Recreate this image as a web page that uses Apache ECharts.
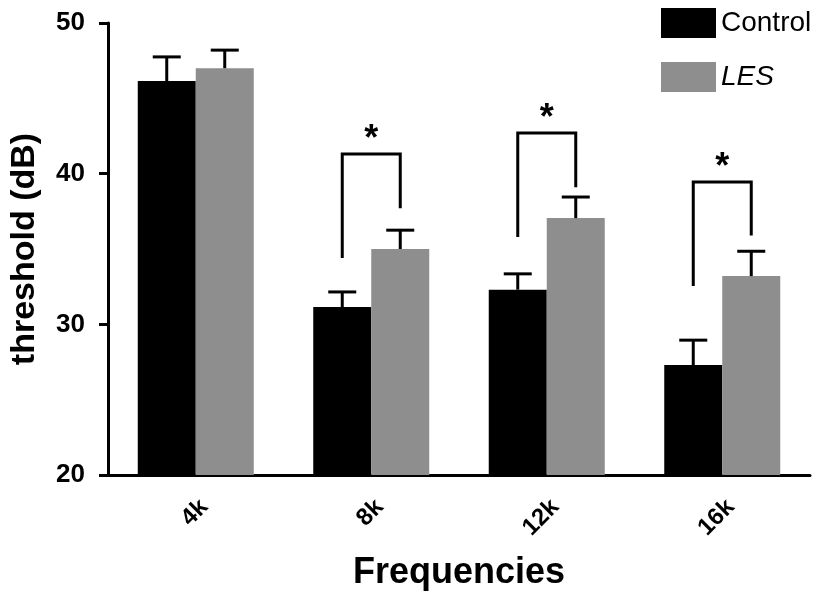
<!DOCTYPE html>
<html>
<head>
<meta charset="utf-8">
<script src="https://cdn.jsdelivr.net/npm/echarts@6/dist/echarts.min.js"></script>
<style>html,body{margin:0;padding:0;background:#fff}#c{width:816px;height:596px}</style>
</head>
<body>
<div id="c"></div>
<script>
var categories = ['4k', '8k', '12k', '16k'];
var controlMean = [46.15, 31.15, 32.3, 27.3];
var controlErr = [1.6, 1.0, 1.05, 1.65];
var lesMean = [47.0, 35.0, 37.05, 33.2];
var lesErr = [1.2, 1.25, 1.4, 1.65];
var bracketTop = [null, 41.3, 42.7, 39.45];
var bracketLeftEnd = [null, 34.4, 35.8, 32.55];
var bracketRightEnd = [null, 37.7, 39.1, 35.9];
var sigLabels = ['', '*', '*', '*'];
var yTicks = [20, 30, 40, 50];

var FONT = '"Liberation Sans", Arial, sans-serif';
var BAR_W = 58;
var BLACK = '#000000';
var GRAY = '#8e8e8e';

function errData(means, errs) {
  return means.map(function (m, i) { return [i, m, errs[i]]; });
}
function errRender(offset) {
  return function (params, api) {
    var i = api.value(0);
    var base = api.coord([i, api.value(1)]);
    var top = api.coord([i, api.value(1) + api.value(2)]);
    var x = base[0] + offset;
    var cap = 14;
    return {
      type: 'group',
      children: [
        { type: 'line', shape: { x1: x, y1: base[1], x2: x, y2: top[1] }, style: { stroke: '#000', lineWidth: 3 } },
        { type: 'line', shape: { x1: x - cap, y1: top[1], x2: x + cap, y2: top[1] }, style: { stroke: '#000', lineWidth: 3 } }
      ]
    };
  };
}
var bracketData = [];
categories.forEach(function (c, i) {
  if (bracketTop[i] != null) bracketData.push([i, bracketTop[i], bracketLeftEnd[i], bracketRightEnd[i], sigLabels[i]]);
});

var chart = echarts.init(document.getElementById('c'), null, { renderer: 'canvas' });
chart.setOption({
  animation: false,
  backgroundColor: '#fff',
  textStyle: { fontFamily: FONT },
  grid: { left: 108, right: 6, top: 23, bottom: 121, containLabel: false, outerBoundsMode: 'none' },
  legend: {
    orient: 'vertical', left: 656, top: 3,
    itemWidth: 55, itemHeight: 30, itemGap: 24,
    icon: 'rect',
    textStyle: { fontFamily: FONT, fontSize: 28, color: '#000', padding: [0, 0, 0, 0] },
    data: [
      { name: 'Control' },
      { name: 'LES', textStyle: { fontStyle: 'italic' } }
    ]
  },
  xAxis: {
    type: 'category', data: categories,
    name: 'Frequencies', nameLocation: 'middle', nameGap: 80,
    nameTextStyle: { fontFamily: FONT, fontSize: 36, fontWeight: 'bold', color: '#000' },
    axisLine: { lineStyle: { color: '#000', width: 3 } },
    axisTick: { alignWithLabel: true, length: 10, lineStyle: { color: '#000', width: 3 } },
    axisLabel: { rotate: 45, fontFamily: FONT, fontSize: 24, fontWeight: 'bold', color: '#000', margin: 20, verticalAlign: 'top' },
    splitLine: { show: false }
  },
  yAxis: {
    type: 'value', min: yTicks[0], max: yTicks[yTicks.length - 1], interval: 10,
    name: 'threshold (dB)', nameLocation: 'middle', nameGap: 66, nameRotate: 90,
    nameTextStyle: { fontFamily: FONT, fontSize: 34, fontWeight: 'bold', color: '#000' },
    axisLine: { show: true, lineStyle: { color: '#000', width: 3 } },
    axisTick: { show: true, length: 9, lineStyle: { color: '#000', width: 3 } },
    axisLabel: { fontFamily: FONT, fontSize: 26, fontWeight: 'bold', color: '#000', margin: 23 },
    splitLine: { show: false }
  },
  series: [
    { name: 'Control', type: 'bar', data: controlMean, barWidth: BAR_W, barGap: '0%', itemStyle: { color: BLACK }, z: 2 },
    { name: 'LES', type: 'bar', data: lesMean, barWidth: BAR_W, barGap: '0%', itemStyle: { color: GRAY }, z: 2 },
    { name: 'ctrlErr', type: 'custom', data: errData(controlMean, controlErr), renderItem: errRender(-BAR_W / 2), z: 3, silent: true },
    { name: 'lesErr', type: 'custom', data: errData(lesMean, lesErr), renderItem: errRender(BAR_W / 2), z: 3, silent: true },
    {
      name: 'brackets', type: 'custom', data: bracketData, z: 3, silent: true,
      renderItem: function (params, api) {
        var i = api.value(0);
        var t = api.coord([i, api.value(1)]);
        var l = api.coord([i, api.value(2)]);
        var r = api.coord([i, api.value(3)]);
        var xl = t[0] - BAR_W / 2, xr = t[0] + BAR_W / 2;
        return {
          type: 'group',
          children: [
            { type: 'polyline', shape: { points: [[xl, l[1]], [xl, t[1]], [xr, t[1]], [xr, r[1]]] }, style: { stroke: '#000', lineWidth: 3, fill: null } },
            { type: 'text', style: { text: api.value(4), x: t[0], y: t[1] - 14, align: 'center', verticalAlign: 'middle', fontFamily: FONT, fontSize: 36, fontWeight: 'bold', fill: '#000' } }
          ]
        };
      }
    }
  ]
});
</script>
</body>
</html>
